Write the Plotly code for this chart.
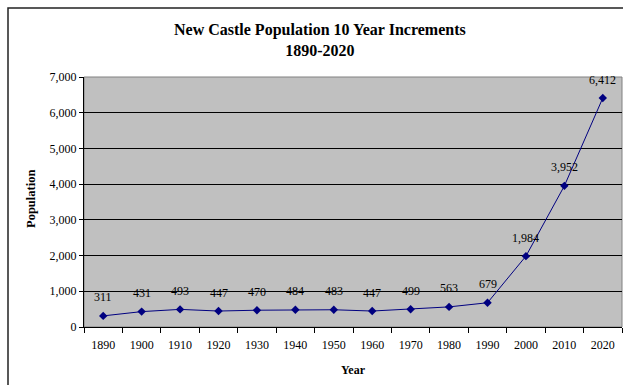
import plotly.graph_objects as go

years = ["1890", "1900", "1910", "1920", "1930", "1940", "1950",
         "1960", "1970", "1980", "1990", "2000", "2010", "2020"]
population = [311, 431, 493, 447, 470, 484, 483, 447, 499, 563, 679, 1984, 3952, 6412]
y_ticks = [0, 1000, 2000, 3000, 4000, 5000, 6000, 7000]

SERIF = "Liberation Serif, Times New Roman, serif"
NAVY = "#000080"

W, H = 623, 385
L, R, T, B = 84, 1, 77, 58
pw = W - L - R
ph = H - T - B


def px_x(p):
    return (p - L) / pw


def px_y(p):
    return (H - B - p) / ph


fig = go.Figure()
fig.add_trace(go.Scatter(
    x=years, y=population, mode="lines+markers",
    line=dict(color=NAVY, width=1),
    marker=dict(symbol="diamond", size=6.5, color=NAVY),
    hoverinfo="x+y", showlegend=False,
))

# value labels above each point (category index used as x position)
annotations = [
    dict(x=i, y=v, xref="x", yref="y", text=f"{v:,}", showarrow=False,
         yshift=18.5, font=dict(family=SERIF, size=12, color="#000"))
    for i, v in enumerate(population)
]
annotations.append(dict(
    x=px_x(320), y=px_y(40), xref="paper", yref="paper",
    xanchor="center", yanchor="middle",
    text="<b>New Castle Population 10 Year Increments<br>1890-2020</b>",
    showarrow=False, font=dict(family=SERIF, size=16, color="#000"),
    align="center",
))
annotations.append(dict(
    x=px_x(31), y=px_y(199), xref="paper", yref="paper",
    xanchor="center", yanchor="middle",
    text="<b>Population</b>", textangle=-90, showarrow=False,
    font=dict(family=SERIF, size=12.5, color="#000"),
))

shapes = [
    # plot area frame
    dict(type="rect", xref="paper", yref="paper", x0=0, x1=1, y0=0, y1=1,
         line=dict(color="#808080", width=1), layer="below"),
    # chart area border
    dict(type="rect", xref="paper", yref="paper",
         x0=px_x(8), x1=px_x(640), y0=px_y(400), y1=px_y(8),
         line=dict(color="#222", width=1.5)),
]

fig.update_layout(
    width=W, height=H,
    margin=dict(l=L, r=R, t=T, b=B),
    paper_bgcolor="white", plot_bgcolor="#C0C0C0",
    font=dict(family=SERIF, size=12, color="#000"),
    annotations=annotations, shapes=shapes,
    xaxis=dict(
        type="category", range=[-0.5, len(years) - 0.5],
        tickson="boundaries", ticks="outside", ticklen=5, tickcolor="#000",
        ticklabelstandoff=7,
        showline=True, linecolor="#000", linewidth=1, showgrid=False,
        tickfont=dict(family=SERIF, size=12, color="#000"),
        title=dict(text="<b>Year</b>", font=dict(family=SERIF, size=12, color="#000"), standoff=14),
    ),
    yaxis=dict(
        range=[0, 7000], tickvals=y_ticks, tickformat=",",
        ticks="outside", ticklen=4, tickcolor="#000",
        showline=True, linecolor="#000", linewidth=1,
        showgrid=True, gridcolor="#000", gridwidth=1, zeroline=False,
        tickfont=dict(family=SERIF, size=12, color="#000"),
    ),
)

fig.write_html("out.html")
